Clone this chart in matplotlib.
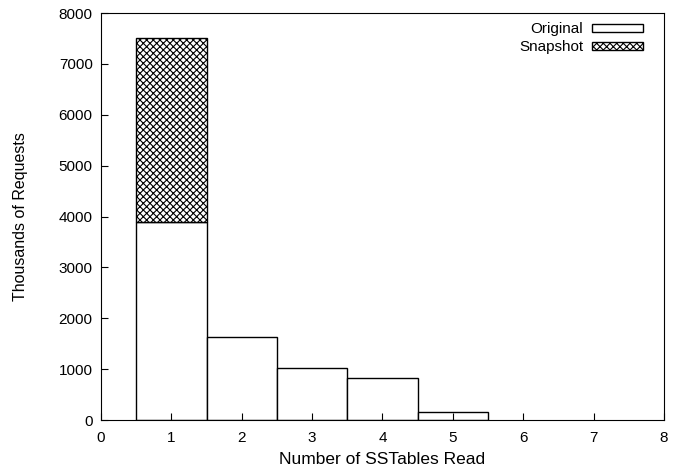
import matplotlib
matplotlib.use('Agg')
from matplotlib import pyplot as plt
from matplotlib.patches import Patch

plt.rcParams['font.family'] = ['Liberation Sans', 'DejaVu Sans']
plt.rcParams['hatch.linewidth'] = 0.8

sstables = [1, 2, 3, 4, 5, 6, 7]
original = [3890, 1640, 1015, 820, 165, 0, 0]
snapshot = [3610, 0, 0, 0, 0, 0, 0]

fig = plt.figure(figsize=(6.87, 4.73), dpi=100)
ax = fig.add_axes([0.147, 0.112, 0.8195, 0.8605])

# bars of zero height would only draw a line over the axis
xs = [x for x, v in zip(sstables, original) if v > 0]
vs = [v for v in original if v > 0]
ax.bar(xs, vs, width=1.0, color='white', edgecolor='black', linewidth=1.0)
ax.bar(sstables[:1], snapshot[:1], width=1.0, bottom=original[:1], color='white',
       edgecolor='black', linewidth=1.0, hatch='xxxxx')

ax.set_xlim(0, 8)
ax.set_ylim(0, 8000)
ax.set_xticks(range(0, 9))
ax.set_yticks(range(0, 8001, 1000))
ax.tick_params(direction='in', length=5, labelsize=11)
ax.tick_params(axis='x', pad=8)
ax.tick_params(axis='y', pad=6)
ax.set_xlabel('Number of SSTables Read', fontsize=12.5, labelpad=5)
ax.set_ylabel('Thousands of Requests', fontsize=11.5, labelpad=22)

handles = [Patch(facecolor='white', edgecolor='black', label='Original'),
           Patch(facecolor='white', edgecolor='black', hatch='xxxxx', label='Snapshot')]
ax.legend(handles=handles, loc='upper right', bbox_to_anchor=(1.0, 1.0295),
          markerfirst=False, frameon=False,
          fontsize=11, handlelength=3.3, handleheight=0.45, handletextpad=0.6,
          labelspacing=0.25, borderaxespad=1.0)

fig.savefig('out.png', dpi=100)
